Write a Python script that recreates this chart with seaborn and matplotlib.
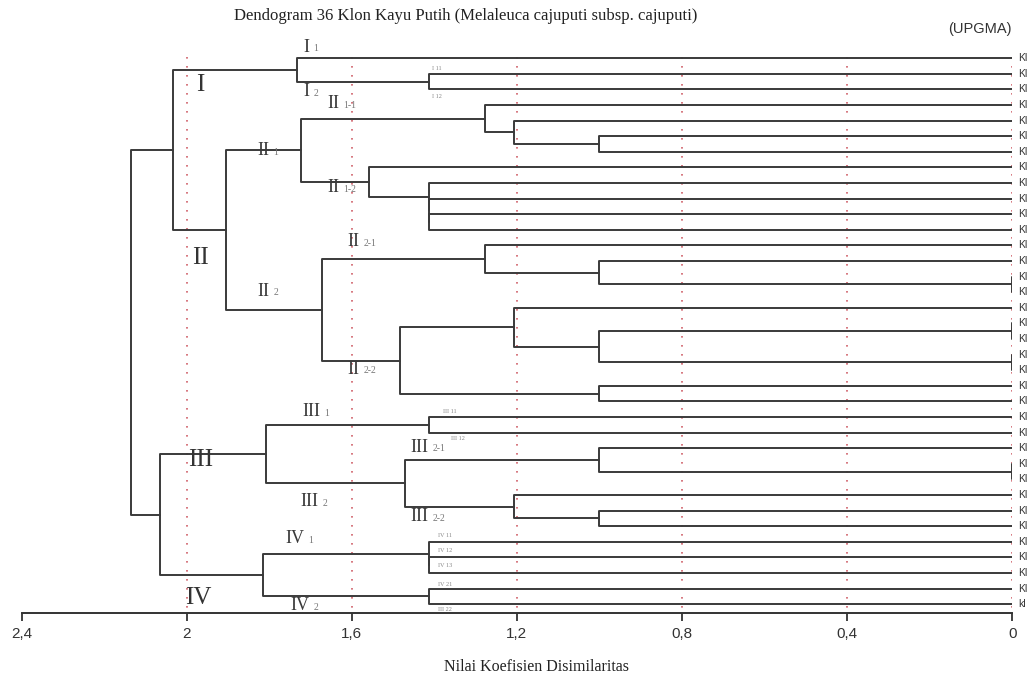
import matplotlib
matplotlib.use('Agg')
import matplotlib.pyplot as plt
import numpy as np
import pandas as pd
import seaborn as sns

# leaf labels, top to bottom (the names are cut at the picture edge)
leaf_labels = ['Kl', 'Kl', 'Kl', 'Kl', 'Kl', 'Kl', 'Kl', 'Kl', 'Kl', 'Kl',
               'Kl', 'Kl', 'Kl', 'Kl', 'Kl', 'Kl', 'Kl', 'Kl', 'Kl', 'Kl',
               'Kl', 'Kl', 'Kl', 'Kl', 'Kl', 'Kl', 'Kl', 'Kl', 'Kl', 'Kl',
               'Kl', 'Kl', 'Kl', 'Kl', 'Kl', 'kl']

# linkage: leaves are 0..35, merge k creates node 36 + k
merge_a = [1, 0, 5, 4, 3, 10, 9, 8, 7, 40, 14, 13, 12, 17, 19, 49, 16, 21,
           52, 48, 45, 37, 23, 26, 25, 29, 28, 60, 58, 32, 31, 34, 66, 64, 57]
merge_b = [2, 36, 6, 38, 39, 11, 41, 42, 43, 44, 15, 46, 47, 18, 20, 50, 51, 22,
           53, 54, 55, 56, 24, 27, 59, 30, 61, 62, 63, 33, 65, 35, 67, 68, 69]
merge_h = [1.414, 1.733, 1.0, 1.207, 1.277, 1.414, 1.414, 1.414, 1.559, 1.723,
           0.0, 1.0, 1.277, 0.0, 0.0, 1.0, 1.207, 1.0, 1.484, 1.671, 1.904,
           2.033, 1.414, 0.0, 1.0, 1.0, 1.207, 1.472, 1.807, 1.414, 1.414,
           1.414, 1.816, 2.065, 2.135]

x_ticks = [2.4, 2.0, 1.6, 1.2, 0.8, 0.4, 0.0]
x_tick_labels = ['2,4', '2', '1,6', '1,2', '0,8', '0,4', '0']

# cluster names: (text, height, row)
group_labels = [('I', 1.966, 1.7), ('II', 1.966, 12.8),
                ('III', 1.966, 25.75), ('IV', 1.971, 34.6)]
sub_labels = [('I', '1', 1.718, -0.72), ('I', '2', 1.718, 2.16),
              ('II', '1-1', 1.659, 2.93), ('II', '1', 1.829, 5.94),
              ('II', '1-2', 1.659, 8.31), ('II', '2-1', 1.611, 11.77),
              ('II', '2', 1.829, 14.92), ('II', '2-2', 1.611, 19.92),
              ('III', '1', 1.720, 22.67), ('III', '2', 1.725, 28.44),
              ('III', '2-1', 1.458, 24.92), ('III', '2-2', 1.458, 29.4),
              ('IV', '1', 1.761, 30.8), ('IV', '2', 1.748, 35.1)]
tiny_labels = [('I 11', 1.405, 0.64), ('I 12', 1.405, 2.46),
               ('III 11', 1.379, 22.67), ('III 12', 1.36, 24.4),
               ('IV 11', 1.39, 30.62), ('IV 12', 1.39, 31.58),
               ('IV 13', 1.39, 32.54), ('IV 21', 1.39, 33.76),
               ('III 22', 1.39, 35.36)]


def build_segments():
    n = len(leaf_labels)
    ypos = {i: float(i) for i in range(n)}
    hgt = {i: 0.0 for i in range(n)}
    rows = []
    for k, (a, b, h) in enumerate(zip(merge_a, merge_b, merge_h)):
        pts = [(hgt[a], ypos[a]), (h, ypos[a]), (h, ypos[b]), (hgt[b], ypos[b])]
        for x, y in pts:
            rows.append({'seg': k, 'x': x, 'y': y})
        node = n + k
        ypos[node] = (ypos[a] + ypos[b]) / 2
        hgt[node] = h
    return pd.DataFrame(rows)


def main() -> None:
    sns.set_style('white')
    plt.rcParams['font.family'] = ['Liberation Serif', 'DejaVu Serif']

    fig = plt.figure(figsize=(10.30, 6.77), dpi=100)
    ax = fig.add_axes([21.5 / 1030, 64 / 677, (1012.3 - 21.5) / 1030, 563 / 677])

    seg = build_segments()
    sns.lineplot(data=seg, x='x', y='y', units='seg', estimator=None, sort=False,
                 color='#3a3a3a', lw=1.4, ax=ax)

    ax.vlines(x_ticks[1:], -0.1, 35.56, colors='#d0606a', lw=1.2,
              linestyles=(0, (1, 4.4)), zorder=0)

    ax.set_xlim(2.4, 0)
    ax.set_ylim(35.56, -0.53)
    ax.set_xlabel('')
    ax.set_ylabel('')
    for s in ['top', 'left', 'right']:
        ax.spines[s].set_visible(False)
    ax.spines['bottom'].set_color('#333333')
    ax.spines['bottom'].set_linewidth(1.4)
    ax.set_yticks([])
    ax.set_xticks(x_ticks)
    ax.set_xticklabels(x_tick_labels, family=['Liberation Sans Narrow', 'Liberation Sans'],
                       fontsize=11, color='#333333')
    ax.tick_params(axis='x', direction='out', length=6, width=1.3, color='#333333', pad=4,
                   bottom=True)

    for i, lab in enumerate(leaf_labels):
        ax.text(-0.015, i, lab, fontsize=7.5, family=['Liberation Sans'], color='#333333',
                ha='left', va='center', clip_on=False)

    for txt, x, y in group_labels:
        ax.text(x, y, txt, fontsize=18, color='#333333', ha='center', va='center')
    for main_txt, sub, x, y in sub_labels:
        t = ax.text(x, y, main_txt, fontsize=13, color='#3a3a3a', ha='left', va='center')
        ax.annotate(sub, xy=(1, 0.12), xycoords=t, xytext=(3, 0), textcoords='offset points',
                    fontsize=7, color='#777777', ha='left', va='bottom')
    for txt, x, y in tiny_labels:
        ax.text(x, y, txt, fontsize=4.5, color='#888888', ha='left', va='center')

    fig.text(466 / 1030, 1 - 16 / 677, 'Dendogram 36 Klon Kayu Putih (Melaleuca cajuputi subsp. cajuputi)',
             fontsize=12, color='#222222', ha='center', va='center')
    fig.text(980 / 1030, 1 - 29 / 677, '(UPGMA)', fontsize=10.5, color='#333333',
             family=['Liberation Sans Narrow', 'Liberation Sans'], ha='center', va='center')
    fig.text(537 / 1030, 1 - 667 / 677, 'Nilai Koefisien Disimilaritas', fontsize=11.5,
             color='#222222', ha='center', va='center')

    fig.savefig('out.png', dpi=100)


if __name__ == '__main__':
    main()
